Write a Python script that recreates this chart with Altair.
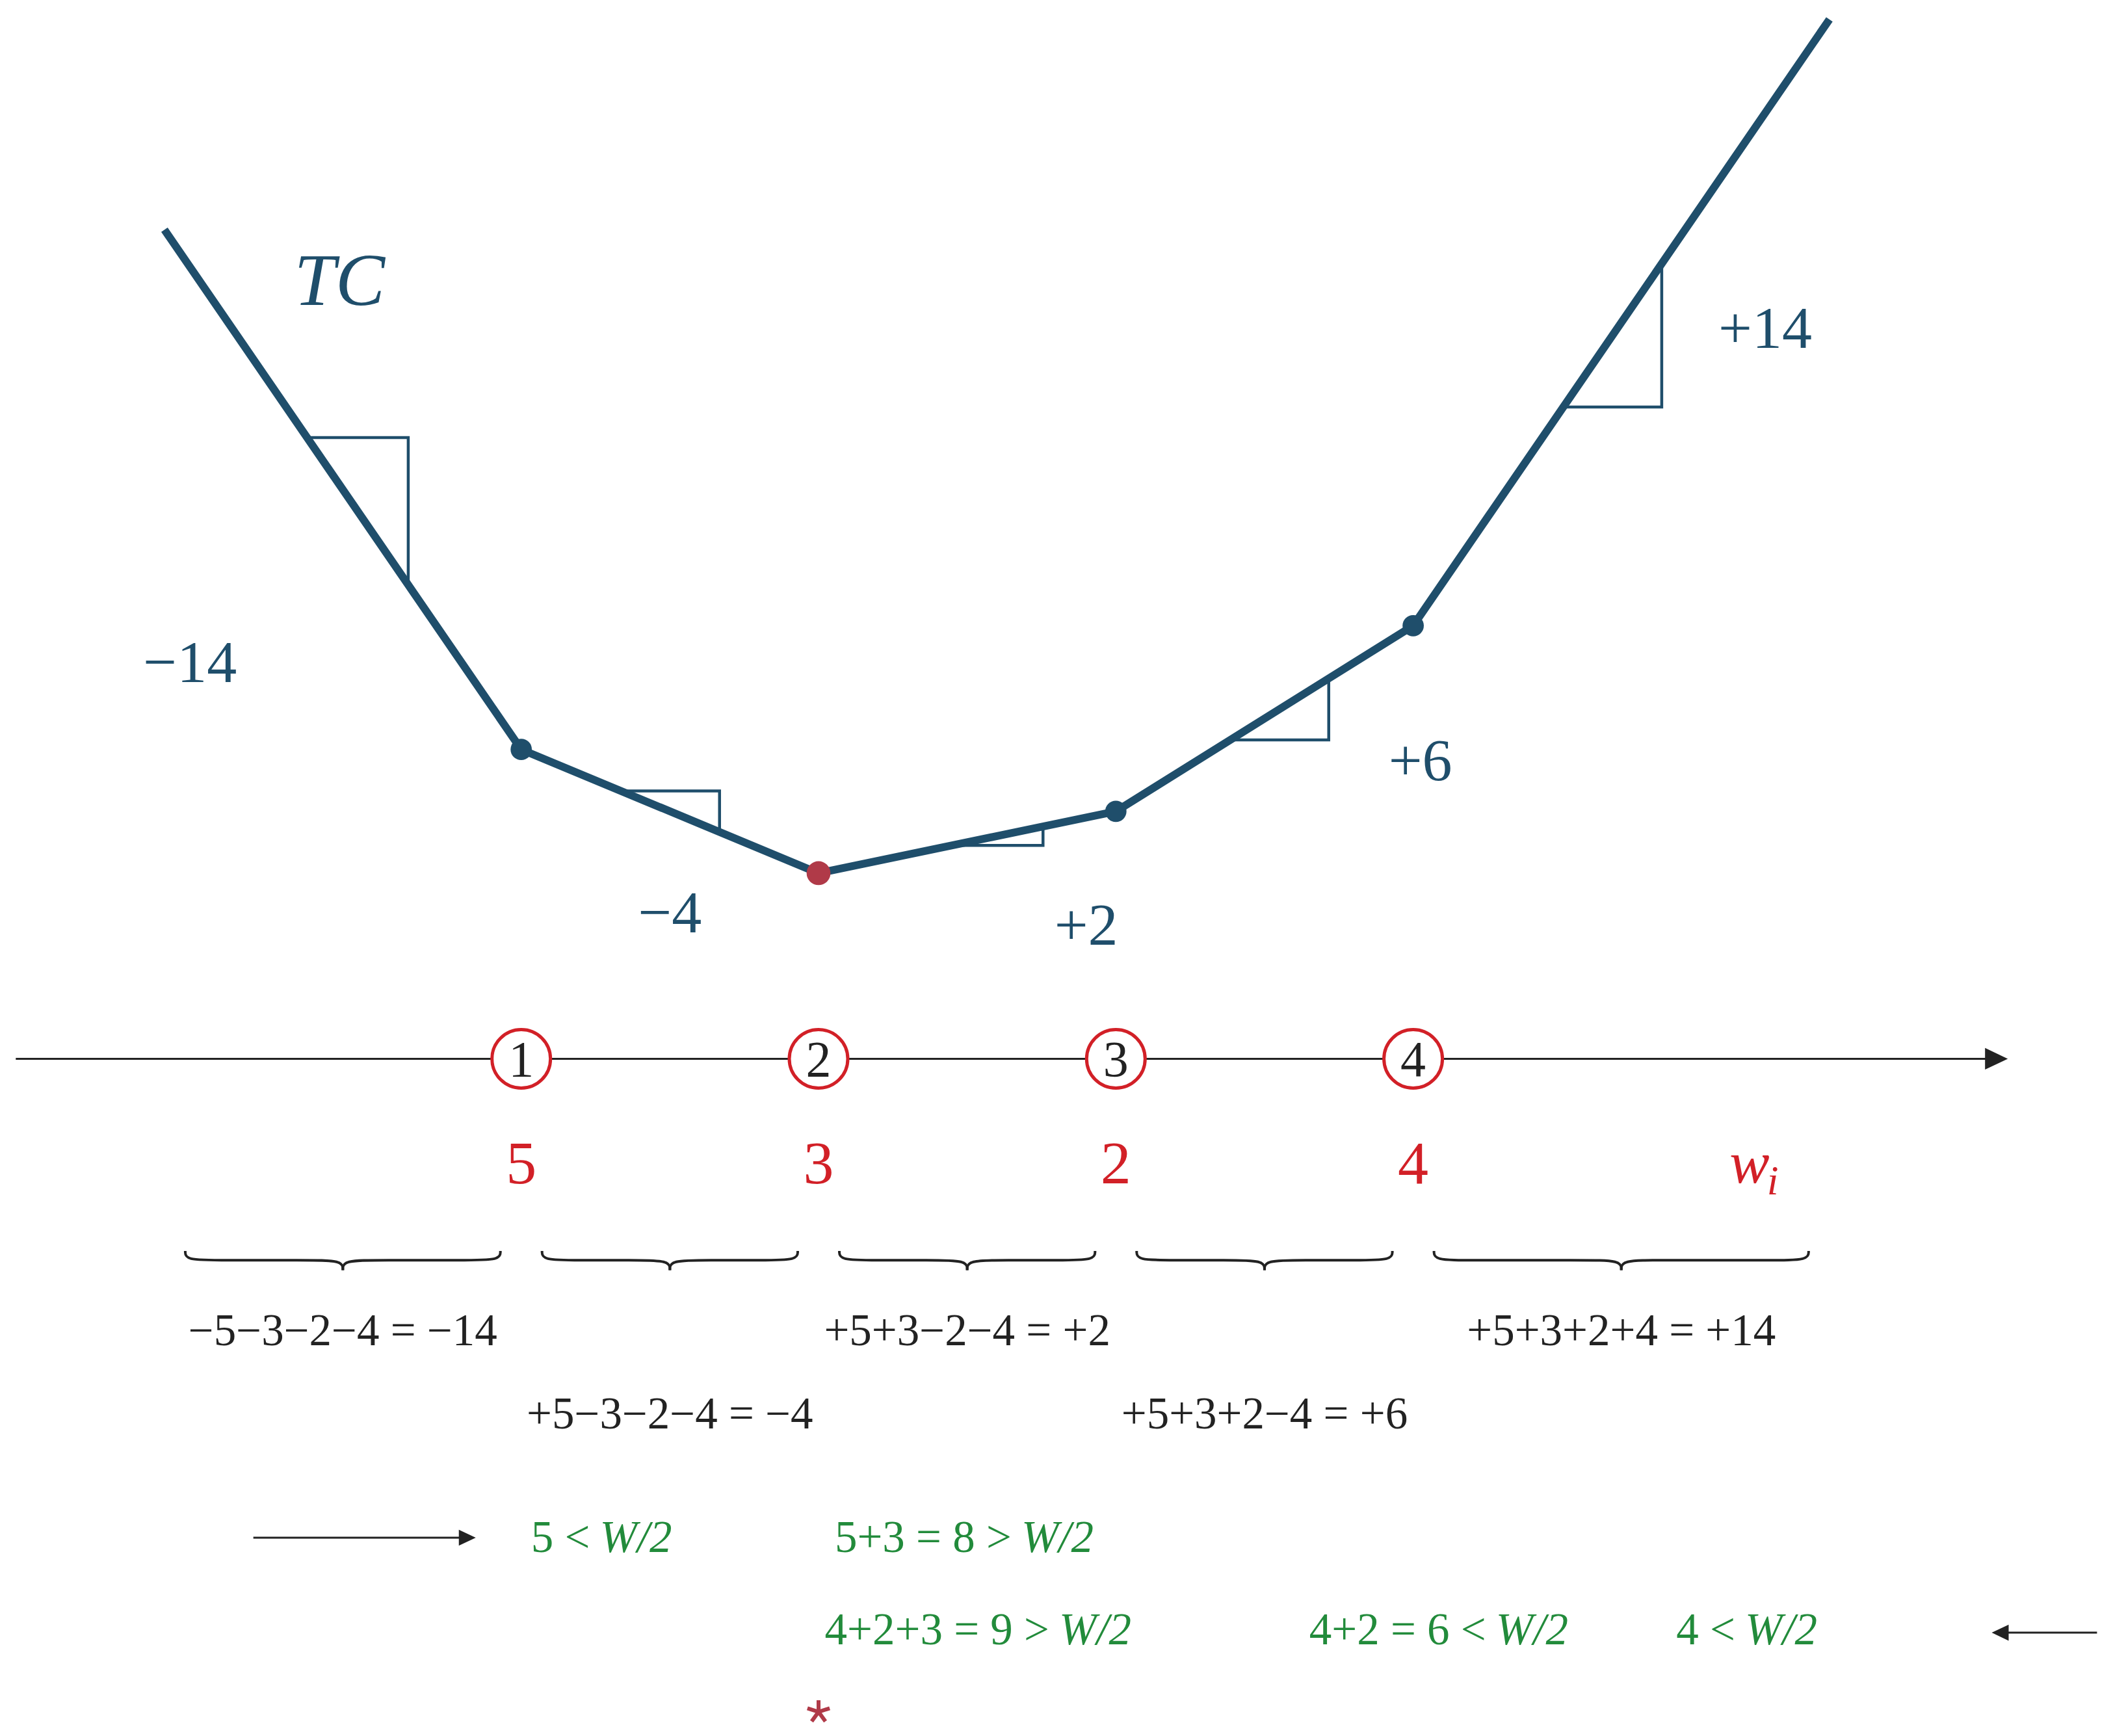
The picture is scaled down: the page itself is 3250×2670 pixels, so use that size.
import altair as alt
import pandas as pd
import numpy as np

# ------------------------------------------------------------------ data
node_pos = [1, 2, 3, 4]
node_labels = ["1", "2", "3", "4"]
weights = ["5", "3", "2", "4"]

tc_x = [-0.2, 1, 2, 3, 4, 5.4]
tc_y = [35.8, 19, 15, 17, 23, 42.6]
tc_min_index = 2

slope_text = ["\u221214", "\u22124", "+2", "+6", "+14"]
slope_lab_x = [-0.114, 1.5, 2.9, 4.024, 5.184]
slope_lab_y = [21.18, 13.08, 12.69, 18.0, 31.99]

tri_x0 = [0.28, 1.335, 2.45, 3.385, 4.505]
tri_x1 = [0.62, 1.667, 2.755, 3.716, 4.836]

brace_a = [-0.13, 1.07, 2.07, 3.07, 4.07]
brace_b = [0.93, 1.93, 2.93, 3.93, 5.33]
brace_text = ["\u22125\u22123\u22122\u22124 = \u221214",
              "+5\u22123\u22122\u22124 = \u22124",
              "+5+3\u22122\u22124 = +2",
              "+5+3+2\u22124 = +6",
              "+5+3+2+4 = +14"]
brace_row = [0, 1, 0, 1, 0]

green_prefix = ["5 <", "5+3 = 8 >", "4+2+3 = 9 >", "4+2 = 6 <", "4 <"]
green_x = [1.264, 2.682, 2.809, 4.278, 5.116]
green_row = [0, 0, 1, 1, 1]

# ------------------------------------------------------------------ layout / style
BLUE = "#1f4e6b"
DARKRED = "#b03a48"
RED = "#d22027"
GREEN = "#228b3b"
INK = "#222222"
FONT = "Liberation Serif"
PX_PER_X = 457.3

AXIS_Y = 9.0
AXIS_X0, AXIS_X1 = -0.7, 6.0
RING_NUM_BASE = 8.44
WEIGHT_BASE = 4.97
BRACE_TOP, BRACE_MID, BRACE_TIP = 2.79, 2.49, 2.17
BRACE_D_END, BRACE_D_MID = 0.12, 0.13
ROW_BASE = [-0.25, -2.95]
GREEN_BASE = [-6.94, -9.92]
ARROWS = [  # tail x, tip x, y
    (0.099, 0.847, -6.48),
    (6.30, 5.946, -9.55),
]
STAR = (2.0, -12.11)
TC_LABEL = (0.389, 33.36)
W_LABEL = (5.064, 5.0)
I_LABEL = (5.19, 4.62)

TEXT_SIZE = 69

xs = alt.Scale(domain=[-0.7356, 6.3363], nice=False, zero=False)
ys = alt.Scale(domain=[-12.722, 43.058], nice=False, zero=False)


def X(f="x"):
    return alt.X(f"{f}:Q", scale=xs, axis=None)


def Y(f="y"):
    return alt.Y(f"{f}:Q", scale=ys, axis=None)


# ------------------------------------------------------------------ tables
tc_df = pd.DataFrame({"x": tc_x, "y": tc_y, "i": range(len(tc_x))})

tri_rows = []
for s, (a, b) in enumerate(zip(tri_x0, tri_x1)):
    ya = float(np.interp(a, tc_x, tc_y))
    yb = float(np.interp(b, tc_x, tc_y))
    for k, (px, py) in enumerate([(a, ya), (b, ya), (b, yb)]):
        tri_rows.append({"seg": s, "k": k, "x": px, "y": py})
tri_df = pd.DataFrame(tri_rows)

node_y = [float(np.interp(p, tc_x, tc_y)) for p in node_pos]
dots_df = pd.DataFrame({"x": node_pos, "y": node_y,
                        "kind": ["min" if p == tc_x[tc_min_index] else "node" for p in node_pos]})

ring_df = pd.DataFrame({"x": node_pos, "y": [AXIS_Y] * 4, "lab": node_labels,
                        "yb": [RING_NUM_BASE] * 4})
weight_df = pd.DataFrame({"x": node_pos, "y": [WEIGHT_BASE] * 4, "lab": weights})

slope_df = pd.DataFrame({"x": slope_lab_x, "y": slope_lab_y, "lab": slope_text})

brace_rows = []
for bidx, (a, b) in enumerate(zip(brace_a, brace_b)):
    c = (a + b) / 2
    left = [(a, BRACE_TOP), (a, BRACE_MID), (a + BRACE_D_END, BRACE_MID),
            (c - BRACE_D_MID, BRACE_MID), (c, BRACE_MID), (c, BRACE_TIP)]
    right = [(b, BRACE_TOP), (b, BRACE_MID), (b - BRACE_D_END, BRACE_MID),
             (c + BRACE_D_MID, BRACE_MID), (c, BRACE_MID), (c, BRACE_TIP)]
    for h, pts in enumerate([left, right]):
        for k, (px, py) in enumerate(pts):
            brace_rows.append({"g": f"{bidx}-{h}", "k": k, "x": px, "y": py})
brace_df = pd.DataFrame(brace_rows)

btext_df = pd.DataFrame({"x": [(a + b) / 2 for a, b in zip(brace_a, brace_b)],
                         "y": [ROW_BASE[r] for r in brace_row], "lab": brace_text})

green_df = pd.DataFrame({"x": green_x, "y": [GREEN_BASE[r] for r in green_row],
                         "pre": green_prefix, "w": ["W/2"] * 5})

arrow_line_rows, arrow_head_rows = [], []
HEAD_PX = 26
for tail, tip, y in ARROWS:
    sgn = 1 if tip > tail else -1
    center = tip - sgn * HEAD_PX / 2 / PX_PER_X
    arrow_line_rows.append({"x": tail, "x2": center, "y": y})
    arrow_head_rows.append({"x": center, "y": y, "dir": "r" if sgn > 0 else "l"})
arrow_line_df = pd.DataFrame(arrow_line_rows)
arrow_head_df = pd.DataFrame(arrow_head_rows)

AX_HEAD_PX = 35
ax_center = AXIS_X1 - AX_HEAD_PX / 2 / PX_PER_X
axis_df = pd.DataFrame({"x": [AXIS_X0], "x2": [ax_center], "y": [AXIS_Y]})
axis_head_df = pd.DataFrame({"x": [ax_center], "y": [AXIS_Y]})

RIGHT_TRI = "M-1,-0.95L1,0L-1,0.95Z"
LEFT_TRI = "M1,-0.95L-1,0L1,0.95Z"
STAR_PATH = "M0,0L0,-1M0,0L0.951,-0.309M0,0L0.588,0.809M0,0L-0.588,0.809M0,0L-0.951,-0.309"

# ------------------------------------------------------------------ layers
tc_line = alt.Chart(tc_df).mark_line(color=BLUE, strokeWidth=12, strokeCap="butt",
                                     strokeJoin="round").encode(
    x=X(), y=Y(), order="i:Q")

tri = alt.Chart(tri_df).mark_line(color=BLUE, strokeWidth=4.5, strokeJoin="miter").encode(
    x=X(), y=Y(), detail="seg:N", order="k:Q")

dots_node = alt.Chart(dots_df).transform_filter(alt.datum.kind == "node").mark_point(
    filled=True, opacity=1, color=BLUE, size=1070, shape="circle").encode(x=X(), y=Y())
dots_min = alt.Chart(dots_df).transform_filter(alt.datum.kind == "min").mark_point(
    filled=True, opacity=1, color=DARKRED, size=1350, shape="circle").encode(x=X(), y=Y())

axis_line = alt.Chart(axis_df).mark_rule(color=INK, strokeWidth=3).encode(
    x=X(), x2="x2:Q", y=Y())
axis_head = alt.Chart(axis_head_df).mark_point(
    shape=RIGHT_TRI, filled=True, opacity=1, color=INK, size=AX_HEAD_PX ** 2).encode(x=X(), y=Y())

rings = alt.Chart(ring_df).mark_point(
    shape="circle", filled=False, opacity=1, stroke=RED, fill="white", fillOpacity=1,
    strokeWidth=5, size=8100).encode(x=X(), y=Y())
ring_nums = alt.Chart(ring_df).mark_text(
    font=FONT, fontSize=78, color=INK, align="center", baseline="alphabetic").encode(
    x=X(), y=Y("yb"), text="lab:N")

weight_txt = alt.Chart(weight_df).mark_text(
    font=FONT, fontSize=94, color=RED, align="center", baseline="alphabetic").encode(
    x=X(), y=Y(), text="lab:N")

w_txt = alt.Chart(pd.DataFrame({"x": [W_LABEL[0]], "y": [W_LABEL[1]], "lab": ["w"]})).mark_text(
    font=FONT, fontSize=92, fontStyle="italic", color=RED, align="left",
    baseline="alphabetic").encode(x=X(), y=Y(), text="lab:N")
i_txt = alt.Chart(pd.DataFrame({"x": [I_LABEL[0]], "y": [I_LABEL[1]], "lab": ["i"]})).mark_text(
    font=FONT, fontSize=64, fontStyle="italic", color=RED, align="left",
    baseline="alphabetic").encode(x=X(), y=Y(), text="lab:N")

braces = alt.Chart(brace_df).mark_line(color=INK, strokeWidth=4, interpolate="basis").encode(
    x=X(), y=Y(), detail="g:N", order="k:Q")
brace_lbl = alt.Chart(btext_df).mark_text(
    font=FONT, fontSize=TEXT_SIZE, color=INK, align="center", baseline="alphabetic").encode(
    x=X(), y=Y(), text="lab:N")

green_pre = alt.Chart(green_df).mark_text(
    font=FONT, fontSize=TEXT_SIZE, color=GREEN, align="right", baseline="alphabetic",
    dx=-15).encode(x=X(), y=Y(), text="pre:N")
green_w = alt.Chart(green_df).mark_text(
    font=FONT, fontSize=TEXT_SIZE, fontStyle="italic", color=GREEN, align="left",
    baseline="alphabetic").encode(x=X(), y=Y(), text="w:N")

arr_lines = alt.Chart(arrow_line_df).mark_rule(color=INK, strokeWidth=3).encode(
    x=X(), x2="x2:Q", y=Y())
arr_r = alt.Chart(arrow_head_df).transform_filter(alt.datum.dir == "r").mark_point(
    shape=RIGHT_TRI, filled=True, opacity=1, color=INK, size=HEAD_PX ** 2).encode(x=X(), y=Y())
arr_l = alt.Chart(arrow_head_df).transform_filter(alt.datum.dir == "l").mark_point(
    shape=LEFT_TRI, filled=True, opacity=1, color=INK, size=HEAD_PX ** 2).encode(x=X(), y=Y())

star = alt.Chart(pd.DataFrame({"x": [STAR[0]], "y": [STAR[1]]})).mark_point(
    shape=STAR_PATH, filled=False, opacity=1, color=DARKRED, strokeWidth=6,
    size=1296).encode(x=X(), y=Y())

slope_lbl = alt.Chart(slope_df).mark_text(
    font=FONT, fontSize=92, color=BLUE, align="center", baseline="alphabetic").encode(
    x=X(), y=Y(), text="lab:N")
tc_lbl = alt.Chart(pd.DataFrame({"x": [TC_LABEL[0]], "y": [TC_LABEL[1]], "lab": ["TC"]})).mark_text(
    font=FONT, fontSize=114, fontStyle="italic", color=BLUE, align="center",
    baseline="alphabetic").encode(x=X(), y=Y(), text="lab:N")

chart = alt.layer(
    tri, tc_line, dots_node, dots_min,
    axis_line, axis_head, rings, ring_nums,
    weight_txt, w_txt, i_txt,
    braces, brace_lbl,
    green_pre, green_w, arr_lines, arr_r, arr_l, star,
    slope_lbl, tc_lbl,
).properties(
    width=3234, height=2654, padding=0,
    autosize=alt.AutoSizeParams(type="none"), background="white",
).configure_view(stroke=None)

chart.save("out.html", embed_options={"renderer": "svg", "actions": False})
